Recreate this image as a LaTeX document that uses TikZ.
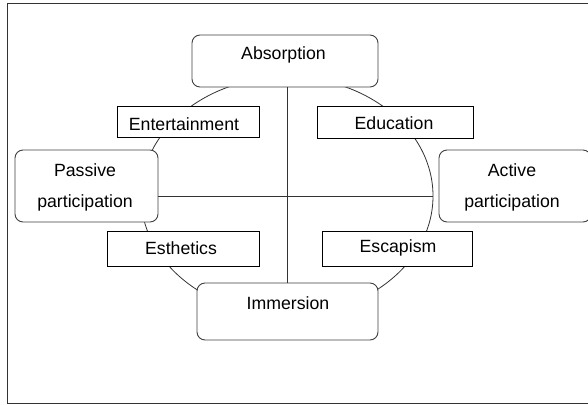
\documentclass[tikz,border=0pt]{standalone}
\usepackage{fontspec}
\setmainfont{Liberation Sans}
\begin{document}
\begin{tikzpicture}[x=1pt,y=-1pt,
  every node/.style={font=\fontsize{17.7}{31}\selectfont, text=black},
  rbox/.style={draw=black!75, line width=0.9pt, fill=white, rounded corners=8pt, inner sep=0pt},
  sbox/.style={draw=black, line width=0.9pt, fill=white, inner sep=0pt},
  lbl/.style={inner sep=0pt, align=center},
  ln/.style={draw=black!80, line width=0.8pt}]
\useasboundingbox (0,0) rectangle (588,404);
% outer frame (right edge outside the picture)
\draw[line width=0.9pt, draw=black!80] (600,3) -- (7,3) -- (7,403) -- (600,403);
% ellipse
\coordinate (c) at (287,196);
\draw[ln] (c) ellipse [x radius=146, y radius=119];
% boxes
\node[rbox, minimum width=186, minimum height=52] (abs) at (285,61) {};
\node[rbox, minimum width=181, minimum height=57] (imm) at (287.5,311.5) {};
\node[rbox, minimum width=143, minimum height=72] (pas) at (86.5,186) {};
\node[rbox, minimum width=152, minimum height=72] (act) at (515,186) {};
% axes
\draw[ln] (abs.south -| c) -- (imm.north -| c);
\draw[ln] (pas.east |- c) -- (433,196);
% square boxes
\node[sbox, minimum width=142, minimum height=31] (ent) at (188,121.5) {};
\node[sbox, minimum width=156, minimum height=32] (edu) at (395,122) {};
\node[sbox, minimum width=152, minimum height=35] (est) at (183,248.5) {};
\node[sbox, minimum width=150, minimum height=35] (esc) at (397,248.5) {};
% labels
\node[lbl] (absT) at (283.5,55) {Absorption};
\node[lbl] (immT) at (288,303) {Immersion};
\node[lbl] (pasT) at (85,187.5) {Passive\\participation};
\node[lbl] (actT) at (512,187.5) {Active\\participation};
\node[lbl] (entT) at (184,124.5) {Entertainment};
\node[lbl] (eduT) at (394,123) {Education};
\node[lbl] (estT) at (181,248) {Esthetics};
\node[lbl] (escT) at (398,248) {Escapism};
\end{tikzpicture}
\end{document}
